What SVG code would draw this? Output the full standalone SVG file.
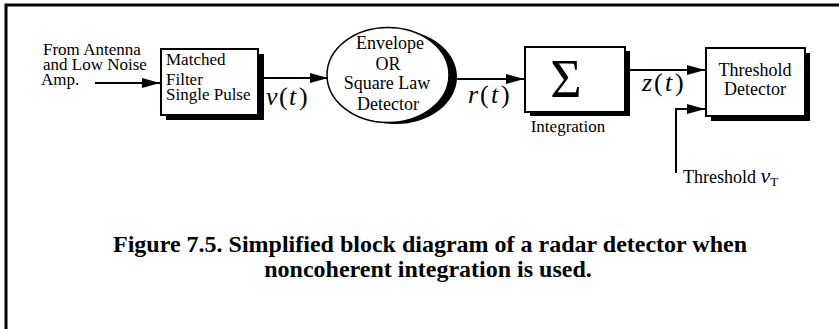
<svg xmlns="http://www.w3.org/2000/svg" width="839" height="329" viewBox="0 0 839 329">
<style>
text{font-family:"Liberation Serif","Times New Roman",serif;fill:#000}
.lbl{font-size:18px}
.sm{font-size:17px}
.mid{text-anchor:middle}
.it{font-style:italic}
.math{font-size:26px}
.box{fill:#fff;stroke:#000;stroke-width:2}
.shadow{fill:#000}
.wire{fill:none;stroke:#000;stroke-width:2}
.cap{font-size:24px;font-weight:bold;text-anchor:middle}
</style>
<defs>
<marker id="arr" markerUnits="userSpaceOnUse" markerWidth="18" markerHeight="10" refX="18" refY="5" orient="auto">
<path d="M0,0 L18,5 L0,10 Z" fill="#000"/>
</marker>
</defs>
<rect x="0" y="0" width="839" height="329" fill="#fff"/>
<path d="M6,329 V5 H839" fill="none" stroke="#000" stroke-width="3"/>

<g id="input-label">
<text class="sm" x="43" y="55">From Antenna</text>
<text class="sm" x="43" y="70">and Low Noise</text>
<text class="sm" x="41" y="85">Amp.</text>
</g>

<g id="matched-filter">
<rect class="shadow" x="166" y="54" width="98" height="66"/>
<rect class="box" x="161" y="49" width="97" height="66"/>
<text class="sm" x="166" y="65">Matched</text>
<text class="sm" x="166" y="85">Filter</text>
<text class="sm" x="166" y="100">Single Pulse</text>
</g>

<g id="envelope-detector">
<ellipse class="shadow" cx="396" cy="77" rx="61" ry="47"/>
<ellipse cx="388" cy="75" rx="61" ry="47.5" fill="#fff" stroke="#000" stroke-width="1.5"/>
<text class="lbl mid" x="390" y="49">Envelope</text>
<text class="lbl mid" x="388" y="70">OR</text>
<text class="lbl mid" x="387" y="89">Square Law</text>
<text class="lbl mid" x="388" y="110">Detector</text>
</g>

<g id="integration">
<rect class="shadow" x="530" y="51" width="100" height="65"/>
<rect class="box" x="525" y="47" width="100" height="65"/>
<text x="566" y="97" text-anchor="middle" style="font-size:54px">Σ</text>
<text class="mid" x="568" y="132" style="font-size:17px">Integration</text>
</g>

<g id="threshold-detector">
<rect class="shadow" x="711" y="53" width="99" height="68"/>
<rect class="box" x="706" y="48" width="99" height="68"/>
<text class="lbl mid" x="755" y="76">Threshold</text>
<text class="lbl mid" x="755" y="95">Detector</text>
</g>

<g id="threshold-label">
<text class="lbl" x="683" y="183">Threshold <tspan class="it" style="font-size:22px">v</tspan><tspan style="font-size:13px" dy="3">T</tspan></text>
</g>

<g id="connectors">
<line class="wire" x1="95" y1="83" x2="160" y2="83" marker-end="url(#arr)"/>
<line class="wire" x1="258" y1="78" x2="328" y2="78" marker-end="url(#arr)"/>
<line class="wire" x1="457" y1="79" x2="524" y2="79" marker-end="url(#arr)"/>
<line class="wire" x1="630" y1="70" x2="705" y2="70" marker-end="url(#arr)"/>
<polyline class="wire" points="676,173 676,109 705,109" marker-end="url(#arr)"/>
</g>

<g id="signal-labels">
<text class="math" y="105"><tspan class="it" x="266">v</tspan><tspan x="279">(</tspan><tspan class="it" x="289">t</tspan><tspan x="299">)</tspan></text>
<text class="math" y="103"><tspan class="it" x="468">r</tspan><tspan x="480">(</tspan><tspan class="it" x="491">t</tspan><tspan x="501">)</tspan></text>
<text class="math" y="91"><tspan class="it" x="642">z</tspan><tspan x="654">(</tspan><tspan class="it" x="665">t</tspan><tspan x="675">)</tspan></text>
</g>

<g id="caption">
<text class="cap" x="430" y="252">Figure 7.5. Simplified block diagram of a radar detector when</text>
<text class="cap" x="428" y="277">noncoherent integration is used.</text>
</g>
</svg>
